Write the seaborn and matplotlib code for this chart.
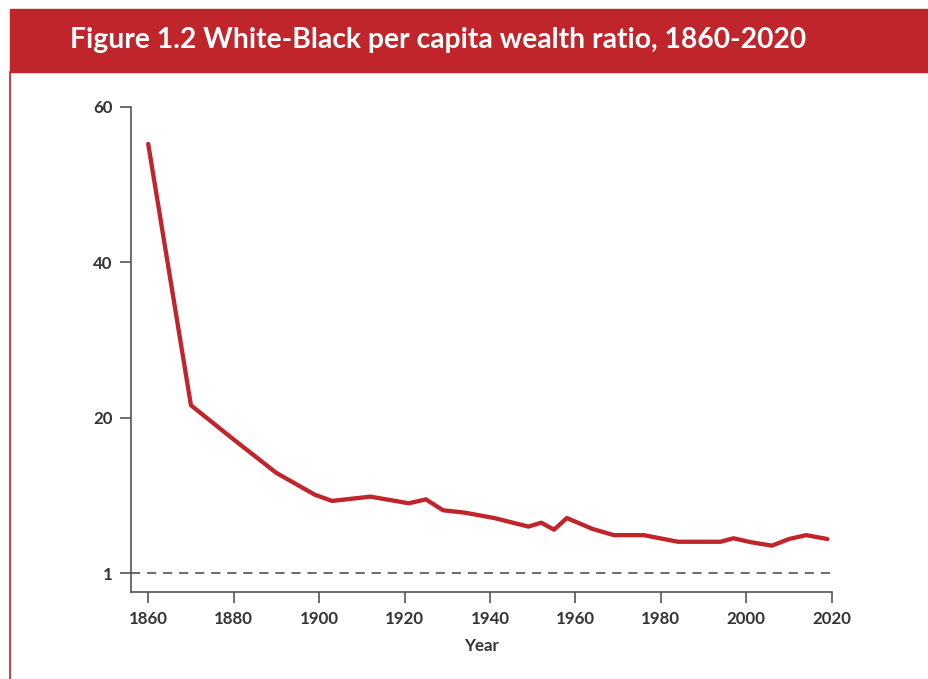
import pandas as pd
import matplotlib.pyplot as plt
from matplotlib.patches import Rectangle
import seaborn as sns

# Data (bottom gridline is the parity line, labelled "1")
years = [1860, 1870, 1880, 1890, 1899, 1903, 1912, 1921, 1925, 1929, 1934,
         1941, 1949, 1952, 1955, 1958, 1964, 1969, 1976, 1984, 1994, 1997,
         2001, 2006, 2010, 2014, 2019]
ratio = [55.2, 21.6, 17.2, 12.9, 10.1, 9.3, 9.85, 9.0, 9.5, 8.1, 7.8,
         7.1, 6.0, 6.5, 5.6, 7.1, 5.7, 4.9, 4.9, 4.05, 4.05, 4.5,
         4.0, 3.55, 4.4, 4.9, 4.4]
y_ticks = [0, 20, 40, 60]
y_tick_labels = ["1", "20", "40", "60"]
x_ticks = [1860, 1880, 1900, 1920, 1940, 1960, 1980, 2000, 2020]

df = pd.DataFrame({"year": years, "ratio": ratio})

RED = "#c0252b"
GREY = "#555555"

sns.set_style("white")
plt.rcParams["font.family"] = ["Lato", "DejaVu Sans"]

fig = plt.figure(figsize=(9.29, 6.79), dpi=100)
ax = fig.add_axes([0.1407, 0.1286, 0.7546, 0.7143])

# Header banner and left rule
fig.patches.append(Rectangle((10 / 929, 1 - 71.7 / 679), 1, 62.7 / 679,
                             transform=fig.transFigure, color=RED, zorder=0))
fig.lines.append(plt.Line2D([10.5 / 929, 10.5 / 929], [0, 1 - 71.7 / 679],
                            transform=fig.transFigure, color="#d42a2f", lw=1.3))
fig.text(70 / 929, 1 - 40 / 679,
         "Figure 1.2 White-Black per capita wealth ratio, 1860-2020",
         color="white", fontsize=20.3, fontweight="bold", va="center", ha="left")

ax.axhline(0, color="#444444", lw=1.1, ls=(0, (6, 4.5)), zorder=1)
sns.lineplot(data=df, x="year", y="ratio", color=RED, lw=3.1, ax=ax, zorder=3)

ax.set_xlim(1855.9, 2020)
ax.set_ylim(-2.37, 60)
ax.set_xticks(x_ticks)
ax.set_yticks(y_ticks)
ax.set_yticklabels(y_tick_labels)
ax.set_xlabel("Year", fontsize=12.2, fontweight="bold", color="#333333", labelpad=8)
ax.set_ylabel("")

for s in ["top", "right"]:
    ax.spines[s].set_visible(False)
for s in ["left", "bottom"]:
    ax.spines[s].set_color(GREY)
    ax.spines[s].set_linewidth(1.2)

ax.tick_params(axis="both", direction="out", length=8, width=1.2, color=GREY,
               labelsize=12.2, labelcolor="#333333", pad=5,
               bottom=True, left=True)
ax.tick_params(axis="x", pad=6)
for lab in ax.get_xticklabels() + ax.get_yticklabels():
    lab.set_fontweight("bold")

fig.savefig("out.png", dpi=100)
